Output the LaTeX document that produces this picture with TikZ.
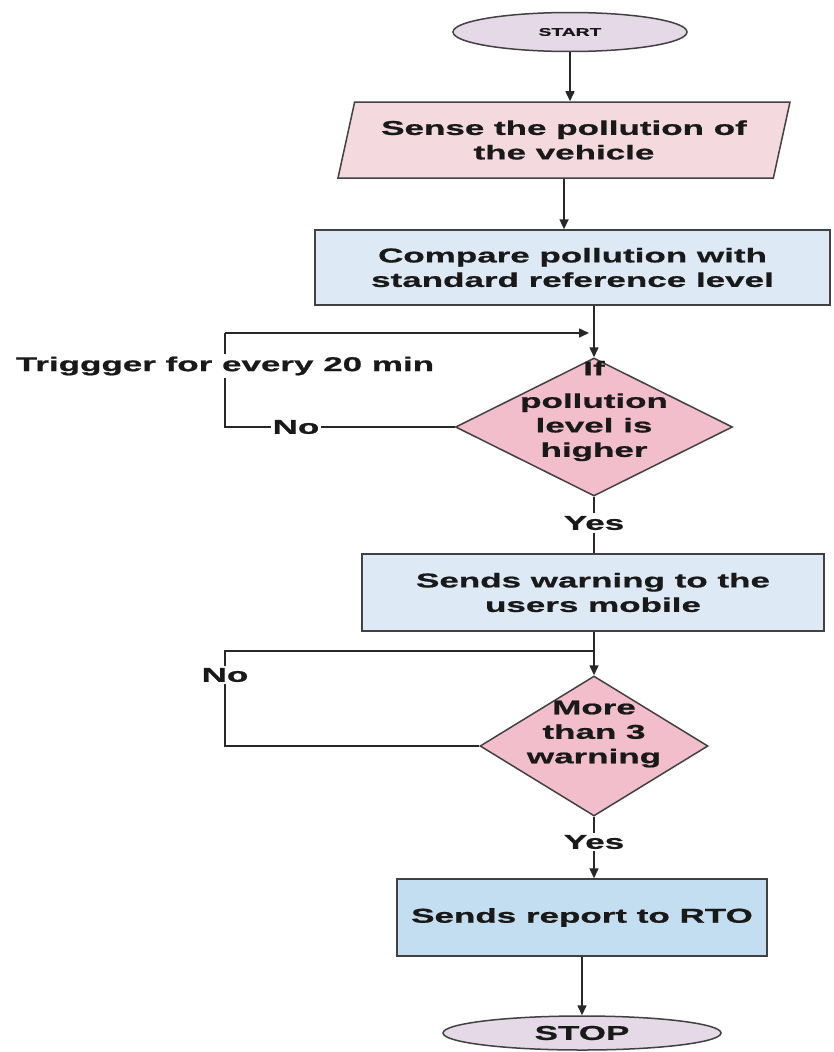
\documentclass[tikz,border=0pt]{standalone}
\usepackage{fontspec}
\setmainfont{Liberation Sans}[FakeStretch=1.75, BoldFeatures={FakeBold=0.9}]
\usetikzlibrary{shapes.geometric,arrows.meta}
\definecolor{bordergray}{RGB}{65,65,65}
\definecolor{linegray}{RGB}{40,40,40}
\definecolor{termfill}{RGB}{229,216,231}
\definecolor{iofill}{RGB}{244,218,223}
\definecolor{procfill}{RGB}{221,234,246}
\definecolor{repfill}{RGB}{196,222,241}
\definecolor{decfill}{RGB}{243,190,204}
\definecolor{txtcol}{RGB}{25,25,25}
\begin{document}
\begin{tikzpicture}[x=1pt,y=-1pt,
  bigfont/.style={font=\bfseries\fontsize{20}{24.5}\selectfont, text=txtcol},
  base/.style={draw=bordergray, line width=1.5pt, align=center, inner sep=0pt, bigfont},
  term/.style={base, ellipse},
  iobox/.style={base, trapezium, trapezium left angle=67, trapezium right angle=113,
     trapezium stretches body, fill=iofill, minimum width=452pt, minimum height=76pt},
  proc/.style={base, rectangle, fill=procfill},
  dec/.style={draw=bordergray, line width=1.5pt, diamond, fill=decfill, inner sep=0pt},
  txt/.style={bigfont, align=center, inner sep=0pt},
  lbl/.style={bigfont, fill=white, inner sep=3pt},
  conn/.style={draw=linegray, line width=1.5pt},
  arr/.style={conn, -{Triangle[length=10pt,width=9pt]}}
]
\useasboundingbox (0,0) rectangle (834,1052);

% shapes
\node[term, fill=termfill, minimum width=234pt, minimum height=39pt,
      font=\bfseries\fontsize{11}{13}\selectfont] (start) at (570,32) {START};
\node[iobox] (sense) at (564,140) {Sense the pollution of\\the vehicle};
\node[proc, minimum width=515pt, minimum height=75pt] (compare) at (572.5,267.5)
      {Compare pollution with\\standard reference level};
\node[dec, minimum width=277pt, minimum height=138pt] (d1) at (594,427) {};
\node[txt] (d1t) at (594,411) {If\\[8pt]pollution\\level is\\higher};
\node[proc, minimum width=462pt, minimum height=77pt] (warn) at (593,592.5)
      {Sends warning to the\\users mobile};
\node[dec, minimum width=228pt, minimum height=140pt] (d2) at (594,746) {};
\node[txt] (d2t) at (594,734) {More\\than 3\\warning};
\node[proc, fill=repfill, minimum width=370pt, minimum height=77pt] (report) at (582,917.5)
      {Sends report to RTO};
\node[term, fill=termfill, minimum width=278pt, minimum height=34pt] (stop) at (582,1033) {STOP};

% loop corner points
\coordinate (loopA) at (225,333);
\coordinate (loopB) at (225,651);

% connectors
\draw[arr] (start.south) -- (start.south |- sense.north);
\draw[arr] (sense.south) -- (sense.south |- compare.north);
\draw[arr] (d1.north |- compare.south) -- (d1.north);
\draw[conn] (d1.west) -- (d1.west -| loopA) -- (loopA);
\draw[arr, shorten >=5pt] (loopA) -- (loopA -| d1.north);
\draw[conn] (d1.south) -- (warn.north -| d1.south);
\draw[arr] (warn.south -| d2.north) -- (d2.north);
\draw[conn] (d2.west) -- (d2.west -| loopB) -- (loopB) -- (loopB -| d2.north);
\draw[arr] (d2.south) -- (d2.south |- report.north);
\draw[arr] (report.south) -- (report.south |- stop.north);

% labels
\node[lbl] (trig) at (225,366) {Triggger for every 20 min};
\node[lbl, inner sep=2pt] (no1) at (296,427) {No};
\node[lbl] (yes1) at (594,523) {Yes};
\node[lbl, inner sep=2pt] (no2) at (225,675) {No};
\node[lbl, inner sep=2pt] (yes2) at (594,842) {Yes};
\end{tikzpicture}
\end{document}
